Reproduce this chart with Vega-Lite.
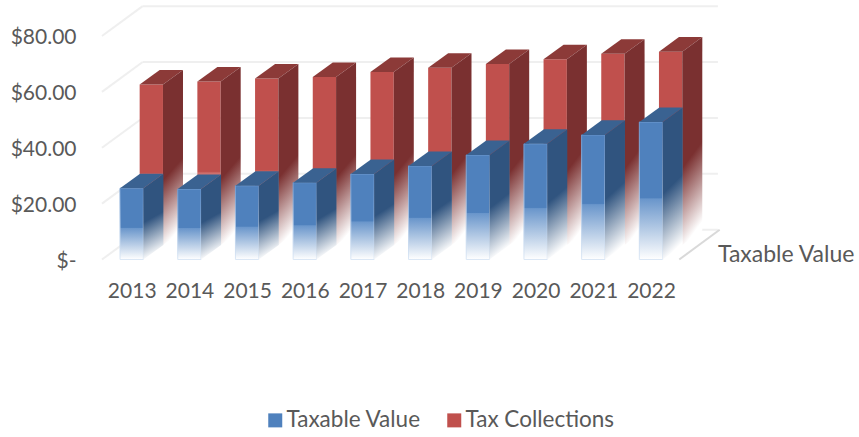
{
"$schema":"https://vega.github.io/schema/vega-lite/v6.json",
"width":859,"height":437,"autosize":"none","padding":0,"background":"white",
"config":{"view":{"stroke":null},"font":"Lato","text":{"font":"Lato"}},
"resolve":{"axis":{"x":"independent","y":"independent"}},
"datasets":{
"bars":[
{"year":2013,"series":"Taxable Value","value":25.5},{"year":2014,"series":"Taxable Value","value":25.2},{"year":2015,"series":"Taxable Value","value":26.4},{"year":2016,"series":"Taxable Value","value":27.5},{"year":2017,"series":"Taxable Value","value":30.6},{"year":2018,"series":"Taxable Value","value":33.5},{"year":2019,"series":"Taxable Value","value":37.4},{"year":2020,"series":"Taxable Value","value":41.4},{"year":2021,"series":"Taxable Value","value":44.6},{"year":2022,"series":"Taxable Value","value":49.2},
{"year":2013,"series":"Tax Collections","value":57.4},{"year":2014,"series":"Tax Collections","value":58.5},{"year":2015,"series":"Tax Collections","value":59.6},{"year":2016,"series":"Tax Collections","value":60.1},{"year":2017,"series":"Tax Collections","value":61.9},{"year":2018,"series":"Tax Collections","value":63.4},{"year":2019,"series":"Tax Collections","value":64.8},{"year":2020,"series":"Tax Collections","value":66.5},{"year":2021,"series":"Tax Collections","value":68.4},{"year":2022,"series":"Tax Collections","value":69.2}
],
"grid":[{"tick":0},{"tick":20},{"tick":40},{"tick":60},{"tick":80}]
},
"layer":[
{"data":{"name":"grid"},
 "transform":[{"calculate":"2013.19","as":"a"},{"calculate":"2023.16","as":"b"},{"calculate":"datum.tick+10.67","as":"back"}],
 "mark":{"type":"rule","stroke":"#efefef","strokeWidth":2},
 "encoding":{
  "x":{"field":"a","type":"quantitative","title":null,"scale":{"domain":[2010.7175,2025.605],"nice":false,"zero":false},
   "axis":{"values":[2013,2014,2015,2016,2017,2018,2019,2020,2021,2022],"format":"d","orient":"bottom","offset":-157,"domain":false,"ticks":false,"grid":false,"labelPadding":0,"labelFont":"Lato","labelFontSize":21,"labelColor":"#595959","labelBaseline":"top"}},
  "x2":{"field":"b"},
  "y":{"field":"back","type":"quantitative","title":null,"scale":{"domain":[-63.53,92.88],"nice":false,"zero":false},
   "axis":{"values":[0,20,40,60,80],"orient":"left","offset":-76,"domain":false,"ticks":false,"grid":false,"labelPadding":0,"labelOffset":2,"labelFont":"Lato","labelFontSize":21,"labelColor":"#595959","labelExpr":"datum.value===0?'$-\u2002':format(datum.value,'$.2f')"}}
 }},
{"data":{"name":"grid"},
 "transform":[{"calculate":"2012.485","as":"a"},{"calculate":"2013.19","as":"b"},{"calculate":"datum.tick+10.67","as":"back"}],
 "mark":{"type":"rule","stroke":"#efefef","strokeWidth":2},
 "encoding":{
  "x":{"field":"a","type":"quantitative","axis":null,"scale":{"domain":[2010.7175,2025.605],"nice":false,"zero":false}},
  "x2":{"field":"b"},
  "y":{"field":"tick","type":"quantitative","axis":null,"scale":{"domain":[-63.53,92.88],"nice":false,"zero":false}},
  "y2":{"field":"back"}
 }},
{"data":{"values":[{"tick":0}]},
 "transform":[{"calculate":"2022.49","as":"a"},{"calculate":"2023.19","as":"b"},{"calculate":"datum.tick+10.67","as":"back"}],
 "mark":{"type":"rule","stroke":"#d9d9d9","strokeWidth":2},
 "encoding":{
  "x":{"field":"a","type":"quantitative","axis":null,"scale":{"domain":[2010.7175,2025.605],"nice":false,"zero":false}},
  "x2":{"field":"b"},
  "y":{"field":"tick","type":"quantitative","axis":null,"scale":{"domain":[-63.53,92.88],"nice":false,"zero":false}},
  "y2":{"field":"back"}
 }},
{"data":{"name":"bars"},
 "transform":[
  {"calculate":"datum.series==='Tax Collections'?1:0","as":"d"},
  {"calculate":"datum.year-0.202+0.34*datum.d","as":"left"},
  {"calculate":"datum.year+0.202+0.34*datum.d","as":"right"},
  {"calculate":"5.2*datum.d","as":"base"},
  {"calculate":"datum.value+5.2*datum.d","as":"top"},
  {"calculate":"[0,1]","as":"t"},
  {"flatten":["t"]},
  {"calculate":"datum.right+0.347*datum.t","as":"sx"},
  {"calculate":"datum.top+5.2*datum.t","as":"stop"},
  {"calculate":"datum.base+5.2*datum.t","as":"sbase"},
  {"calculate":"datum.left+0.347*datum.t","as":"tl"}
 ],
 "layer":[
  {"transform":[{"filter":"datum.t===0"}],
   "mark":{"type":"rect","opacity":0},
   "encoding":{
    "x":{"field":"left","type":"quantitative","axis":null,"scale":{"domain":[2010.7175,2025.605],"nice":false,"zero":false}},
    "x2":{"field":"right"},
    "y":{"field":"top","type":"quantitative","axis":null,"scale":{"domain":[-63.53,92.88],"nice":false,"zero":false}},
    "y2":{"field":"base"},
    "fill":{"field":"series","type":"nominal","title":null,
     "scale":{"domain":["Taxable Value","Tax Collections"],"range":["#4F81BD","#C0504D"]},
     "legend":{"orient":"none","legendX":264,"legendY":409,"direction":"horizontal","symbolType":"square","symbolSize":196,"symbolStrokeWidth":0,"symbolOpacity":1,"labelFont":"Lato","labelFontSize":22.5,"labelColor":"#595959","labelOffset":0,"columnPadding":22,"title":null}}
   }},
  {"transform":[{"filter":"datum.d===1 && datum.t===0"}],
   "mark":{"type":"rect","fill":{"gradient":"linear","x1":0,"y1":0,"x2":0,"y2":1,"stops":[{"offset":0,"color":"#C0504D"},{"offset":0.55,"color":"#C0504D"},{"offset":0.56,"color":"#cf6f6c"},{"offset":1,"color":"#ffffff"}]}},
   "encoding":{
    "x":{"field":"left","type":"quantitative","axis":null,"scale":{"domain":[2010.7175,2025.605],"nice":false,"zero":false}},
    "x2":{"field":"right"},
    "y":{"field":"top","type":"quantitative","axis":null,"scale":{"domain":[-63.53,92.88],"nice":false,"zero":false}},
    "y2":{"field":"base"}
   }},
  {"transform":[{"filter":"datum.d===1"}],
   "mark":{"type":"area","orient":"horizontal","fill":"#8C3A38"},
   "encoding":{
    "y":{"field":"stop","type":"quantitative","axis":null,"stack":null,"scale":{"domain":[-63.53,92.88],"nice":false,"zero":false}},
    "x":{"field":"tl","type":"quantitative","axis":null,"scale":{"domain":[2010.7175,2025.605],"nice":false,"zero":false}},
    "x2":{"field":"sx"},
    "detail":{"field":"year"}
   }},
  {"transform":[{"filter":"datum.d===1"}],
   "mark":{"type":"area","orient":"vertical","fill":{"gradient":"linear","x1":0,"y1":0,"x2":0.13,"y2":1,"stops":[{"offset":0,"color":"#7A3030"},{"offset":0.62,"color":"#7A3030"},{"offset":1,"color":"#ffffff"}]}},
   "encoding":{
    "x":{"field":"sx","type":"quantitative","axis":null,"scale":{"domain":[2010.7175,2025.605],"nice":false,"zero":false}},
    "y":{"field":"stop","type":"quantitative","axis":null,"stack":null,"scale":{"domain":[-63.53,92.88],"nice":false,"zero":false}},
    "y2":{"field":"sbase"},
    "detail":{"field":"year"}
   }},
  {"transform":[{"filter":"datum.d===0 && datum.t===0"}],
   "mark":{"type":"rect","strokeWidth":1,"stroke":{"gradient":"linear","x1":0,"y1":0,"x2":0,"y2":1,"stops":[{"offset":0,"color":"#6f9bd1"},{"offset":1,"color":"#dbe7f5"}]},"fill":{"gradient":"linear","x1":0,"y1":0,"x2":0,"y2":1,"stops":[{"offset":0,"color":"#4F81BD"},{"offset":0.55,"color":"#4F81BD"},{"offset":0.56,"color":"#6a96cb"},{"offset":1,"color":"#ffffff"}]}},
   "encoding":{
    "x":{"field":"left","type":"quantitative","axis":null,"scale":{"domain":[2010.7175,2025.605],"nice":false,"zero":false}},
    "x2":{"field":"right"},
    "y":{"field":"top","type":"quantitative","axis":null,"scale":{"domain":[-63.53,92.88],"nice":false,"zero":false}},
    "y2":{"field":"base"}
   }},
  {"transform":[{"filter":"datum.d===0"}],
   "mark":{"type":"area","orient":"horizontal","fill":"#3A6291"},
   "encoding":{
    "y":{"field":"stop","type":"quantitative","axis":null,"stack":null,"scale":{"domain":[-63.53,92.88],"nice":false,"zero":false}},
    "x":{"field":"tl","type":"quantitative","axis":null,"scale":{"domain":[2010.7175,2025.605],"nice":false,"zero":false}},
    "x2":{"field":"sx"},
    "detail":{"field":"year"}
   }},
  {"transform":[{"filter":"datum.d===0"}],
   "mark":{"type":"area","orient":"vertical","fill":{"gradient":"linear","x1":0,"y1":0,"x2":0.13,"y2":1,"stops":[{"offset":0,"color":"#30547F"},{"offset":0.56,"color":"#30547F"},{"offset":1,"color":"#ffffff"}]}},
   "encoding":{
    "x":{"field":"sx","type":"quantitative","axis":null,"scale":{"domain":[2010.7175,2025.605],"nice":false,"zero":false}},
    "y":{"field":"stop","type":"quantitative","axis":null,"stack":null,"scale":{"domain":[-63.53,92.88],"nice":false,"zero":false}},
    "y2":{"field":"sbase"},
    "detail":{"field":"year"}
   }}
 ]},
{"data":{"values":[{"label":"Taxable Value"}]},
 "mark":{"type":"text","align":"left","baseline":"middle","font":"Lato","fontSize":23,"color":"#595959"},
 "encoding":{
  "x":{"datum":2023.16,"type":"quantitative","axis":null,"scale":{"domain":[2010.7175,2025.605],"nice":false,"zero":false}},
  "y":{"datum":1.7,"type":"quantitative","axis":null,"scale":{"domain":[-63.53,92.88],"nice":false,"zero":false}},
  "text":{"field":"label"}
 }}
]
}
